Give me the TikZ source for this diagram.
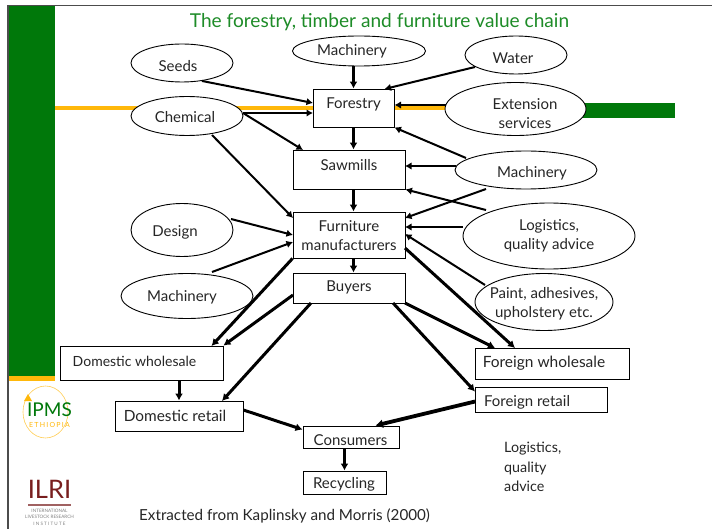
\documentclass[tikz,border=0pt]{standalone}
\usepackage{fontspec}
\setmainfont{Lato}
\usetikzlibrary{shapes.geometric,arrows.meta,calc}
\definecolor{barg}{RGB}{0,120,10}
\definecolor{tgreen}{RGB}{30,140,40}
\definecolor{gold}{RGB}{255,184,10}
\definecolor{ilri}{RGB}{120,30,30}
\tikzset{
 ell/.style={draw,fill=white,ellipse,inner sep=0pt,line width=.9pt},
 bx/.style={draw,fill=white,rectangle,inner sep=0pt,line width=.9pt},
 arr/.style={-{Latex[length=6.5pt,width=7.5pt]},line width=2pt},
 arrb/.style={-{Latex[length=7pt,width=8pt]},line width=3pt},
 lbl/.style={inner sep=0pt,yshift=-1pt,font=\fontsize{15}{19}\selectfont,text=black!85,align=center}
}
\newcommand{\EL}[5]{\node[ell,minimum width=#3pt,minimum height=#4pt] (#5) at (#1,#2) {};}
\newcommand{\BX}[5]{\node[bx,minimum width=#3pt,minimum height=#4pt] (#5) at (#1,#2) {};}
\begin{document}
\begin{tikzpicture}[x=1pt,y=-1pt]
\useasboundingbox (0,0) rectangle (712,529);
% frame and bars
\fill[white] (0,0) rectangle (712,529);
\fill[barg] (8,6) rectangle (55,376);
\fill[gold] (8,376) rectangle (55,381);
\fill[gold] (55,106) rectangle (313,110.5);
\fill[gold] (395,106) rectangle (446,110.5);
\fill[barg] (580,103) rectangle (675,118);
\draw[line width=1.1pt,black!70] (8,529) -- (8,5.5) -- (712,5.5);
% title
\node[inner sep=0pt,text=tgreen,font=\fontsize{19.1}{22}\selectfont] (title) at (379.5,22) {The forestry, timber and furniture value chain};
% ellipses
\EL{182}{63}{102}{38}{seeds}
\EL{359}{51}{133}{30}{machtop}
\EL{516}{55}{102}{38}{water}
\EL{187}{116}{112}{39}{chem}
\EL{515.5}{109}{141}{53}{ext}
\EL{526}{170}{142}{38}{machmid}
\EL{182}{230}{102}{53}{design}
\EL{187}{296}{132}{45}{machlow}
\EL{549}{236}{172}{66}{logi}
\EL{544}{302}{138}{57}{paint}
\node[lbl] (tseeds) at (178,65) {Seeds};
\node[lbl] (tmachtop) at (352,50.5) {Machinery};
\node[lbl] (twater) at (513,57.5) {Water};
\node[lbl] (tchem) at (185,116.5) {Chemical};
\node[lbl] (text) at (525,112.5) {Extension\\services};
\node[lbl] (tmachmid) at (532,172.5) {Machinery};
\node[lbl] (tdesign) at (175,231) {Design};
\node[lbl] (tmachlow) at (182,296.5) {Machinery};
\node[lbl] (tlogi) at (549,234.5) {Logistics,\\quality advice};
\node[lbl] (tpaint) at (544,303) {Paint, adhesives,\\upholstery etc.};
% boxes
\BX{353.5}{108}{81}{38}{forestry}
\BX{349}{169.5}{112}{39}{saw}
\BX{349}{235}{112}{46}{furn}
\BX{349}{288}{112}{30}{buyers}
\BX{141.5}{363}{163}{34}{domw}
\BX{552}{363.5}{154}{31}{forw}
\BX{541}{399.5}{132}{25}{forr}
\BX{179}{416}{128}{30}{domr}
\BX{351}{437}{96}{22}{cons}
\BX{344.5}{482.5}{83}{23}{recy}
\node[lbl] (tforestry) at (353.5,103.5) {Forestry};
\node[lbl] (tsaw) at (349,164) {Sawmills};
\node[lbl] (tfurn) at (349,234.5) {Furniture\\manufacturers};
\node[lbl] (tbuyers) at (349,286.5) {Buyers};
\node[lbl,font=\fontsize{14}{19}\selectfont] (tdomw) at (134.5,360.5) {Domestic wholesale};
\node[lbl,font=\fontsize{15.5}{19}\selectfont] (tforw) at (544,362.5) {Foreign wholesale};
\node[lbl] (tforr) at (527,401) {Foreign retail};
\node[lbl,font=\fontsize{15.4}{19}\selectfont] (tdomr) at (175,415) {Domestic retail};
\node[lbl] (tcons) at (350.5,439) {Consumers};
\node[lbl] (trecy) at (344,483.5) {Recycling};
% connectors
\draw[arr] (seeds.-42) -- ($(forestry.center)+(-40.5,-5)$);
\draw[arrb] (machtop.south -| forestry.center) -- (forestry.north);
\draw[arr] ($(water.center)+(-41,12)$) -- ($(forestry.center)+(31,-19)$);
\draw[arr] ($(chem.center)+(56,-3)$) -- ($(forestry.center)+(-40.5,5)$);
\draw[arr] ($(chem.center)+(56,-3)$) -- ($(saw.center)+(-46,-19.5)$);
\draw[arr] ($(chem.center)+(25,19)$) -- ($(furn.center)+(-56,-17)$);
\draw[arr] ($(ext.center)+(-70,-4)$) -- ($(forestry.center)+(41,-3)$);
\draw[arr] ($(machmid.center)+(-60,-12)$) -- (forestry.south east);
\draw[arr] ($(machmid.center)+(-70,-4)$) -- ($(saw.center)+(56,-3.5)$);
\draw[arr] ($(machmid.center)+(-40,19)$) -- ($(furn.center)+(56,-17)$);
\draw[arr] ($(logi.center)+(-63,-26)$) -- (saw.south east);
\draw[arr] ($(logi.center)+(-86,-9)$) -- ($(furn.center)+(56,-8)$);
\draw[arr] ($(paint.center)+(-59,-17)$) -- ($(furn.center)+(56,-1)$);
\draw[arrb] (forestry.south) -- (forestry.south |- saw.north);
\draw[arrb] (forestry.center |- saw.south) -- (forestry.center |- furn.north);
\draw[arrb] (forestry.center |- furn.south) -- (forestry.center |- buyers.north);
\draw[arr] ($(design.center)+(49,-11)$) -- ($(furn.center)+(-56,0)$);
\draw[arr] ($(machlow.center)+(25,-24)$) -- ($(furn.center)+(-56,7)$);
\draw[arrb] (furn.south west) -- ($(domw.center)+(70,-17)$);
\draw[arrb] ($(buyers.center)+(-56,7)$) -- (domw.north east);
\draw[arrb] ($(buyers.center)+(-38,15)$) -- ($(domr.center)+(43,-15)$);
\draw[arrb] ($(furn.center)+(56,13)$) -- ($(forw.center)+(-37,-15.5)$);
\draw[arrb] ($(buyers.center)+(56,15)$) -- ($(forw.center)+(-57,-15.5)$);
\draw[arrb] ($(buyers.center)+(44,15)$) -- ($(forr.center)+(-66,-8)$);
\draw[arrb] (domw.south -| domr.center) -- (domr.north);
\draw[arrb] (domr.east) ++(0,-6) -- ($(cons.north west)+(0,4)$);
\draw[line width=3.8pt,-{Latex[length=7.5pt,width=9pt]}] ($(forr.center)+(-66,2)$) -- ($(cons.north east)+(-24,0)$);
\draw[arrb] (cons.south -| recy.center) -- (recy.north);
% free text
\node[lbl,anchor=west,align=left,font=\fontsize{14.3}{19.5}\selectfont] (freelog) at (504,466) {Logistics,\\quality\\advice};
\node[lbl,anchor=west,font=\fontsize{15.2}{18}\selectfont] (src) at (139,515) {Extracted from Kaplinsky and Morris (2000)};
% IPMS logo
\draw[gold!70,line width=.6pt] (45.5,412) ellipse (22.5 and 26);
\fill[gold] (24,401) -- (28,394) -- (32,401) -- cycle;
\node[inner sep=0pt,text=barg,font=\fontsize{19}{20}\selectfont] (ipms) at (49.5,410) {IPMS};
\node[inner sep=0pt,text=gold,font=\fontsize{7}{8}\addfontfeatures{LetterSpace=18}\selectfont] (eth) at (49.5,425) {ETHIOPIA};
% ILRI logo
\node[inner sep=0pt,text=ilri,font=\fontsize{25.5}{26}\selectfont] (ilrilogo) at (49.5,489) {ILRI};
\fill[ilri!70] (28,504) rectangle (71,505.5);
\node[inner sep=0pt,text=black!50,font=\fontsize{4.6}{6.4}\selectfont,align=center] (ilritxt) at (49.5,517) {INTERNATIONAL\\LIVESTOCK RESEARCH\\I N S T I T U T E};
\end{tikzpicture}
\end{document}
